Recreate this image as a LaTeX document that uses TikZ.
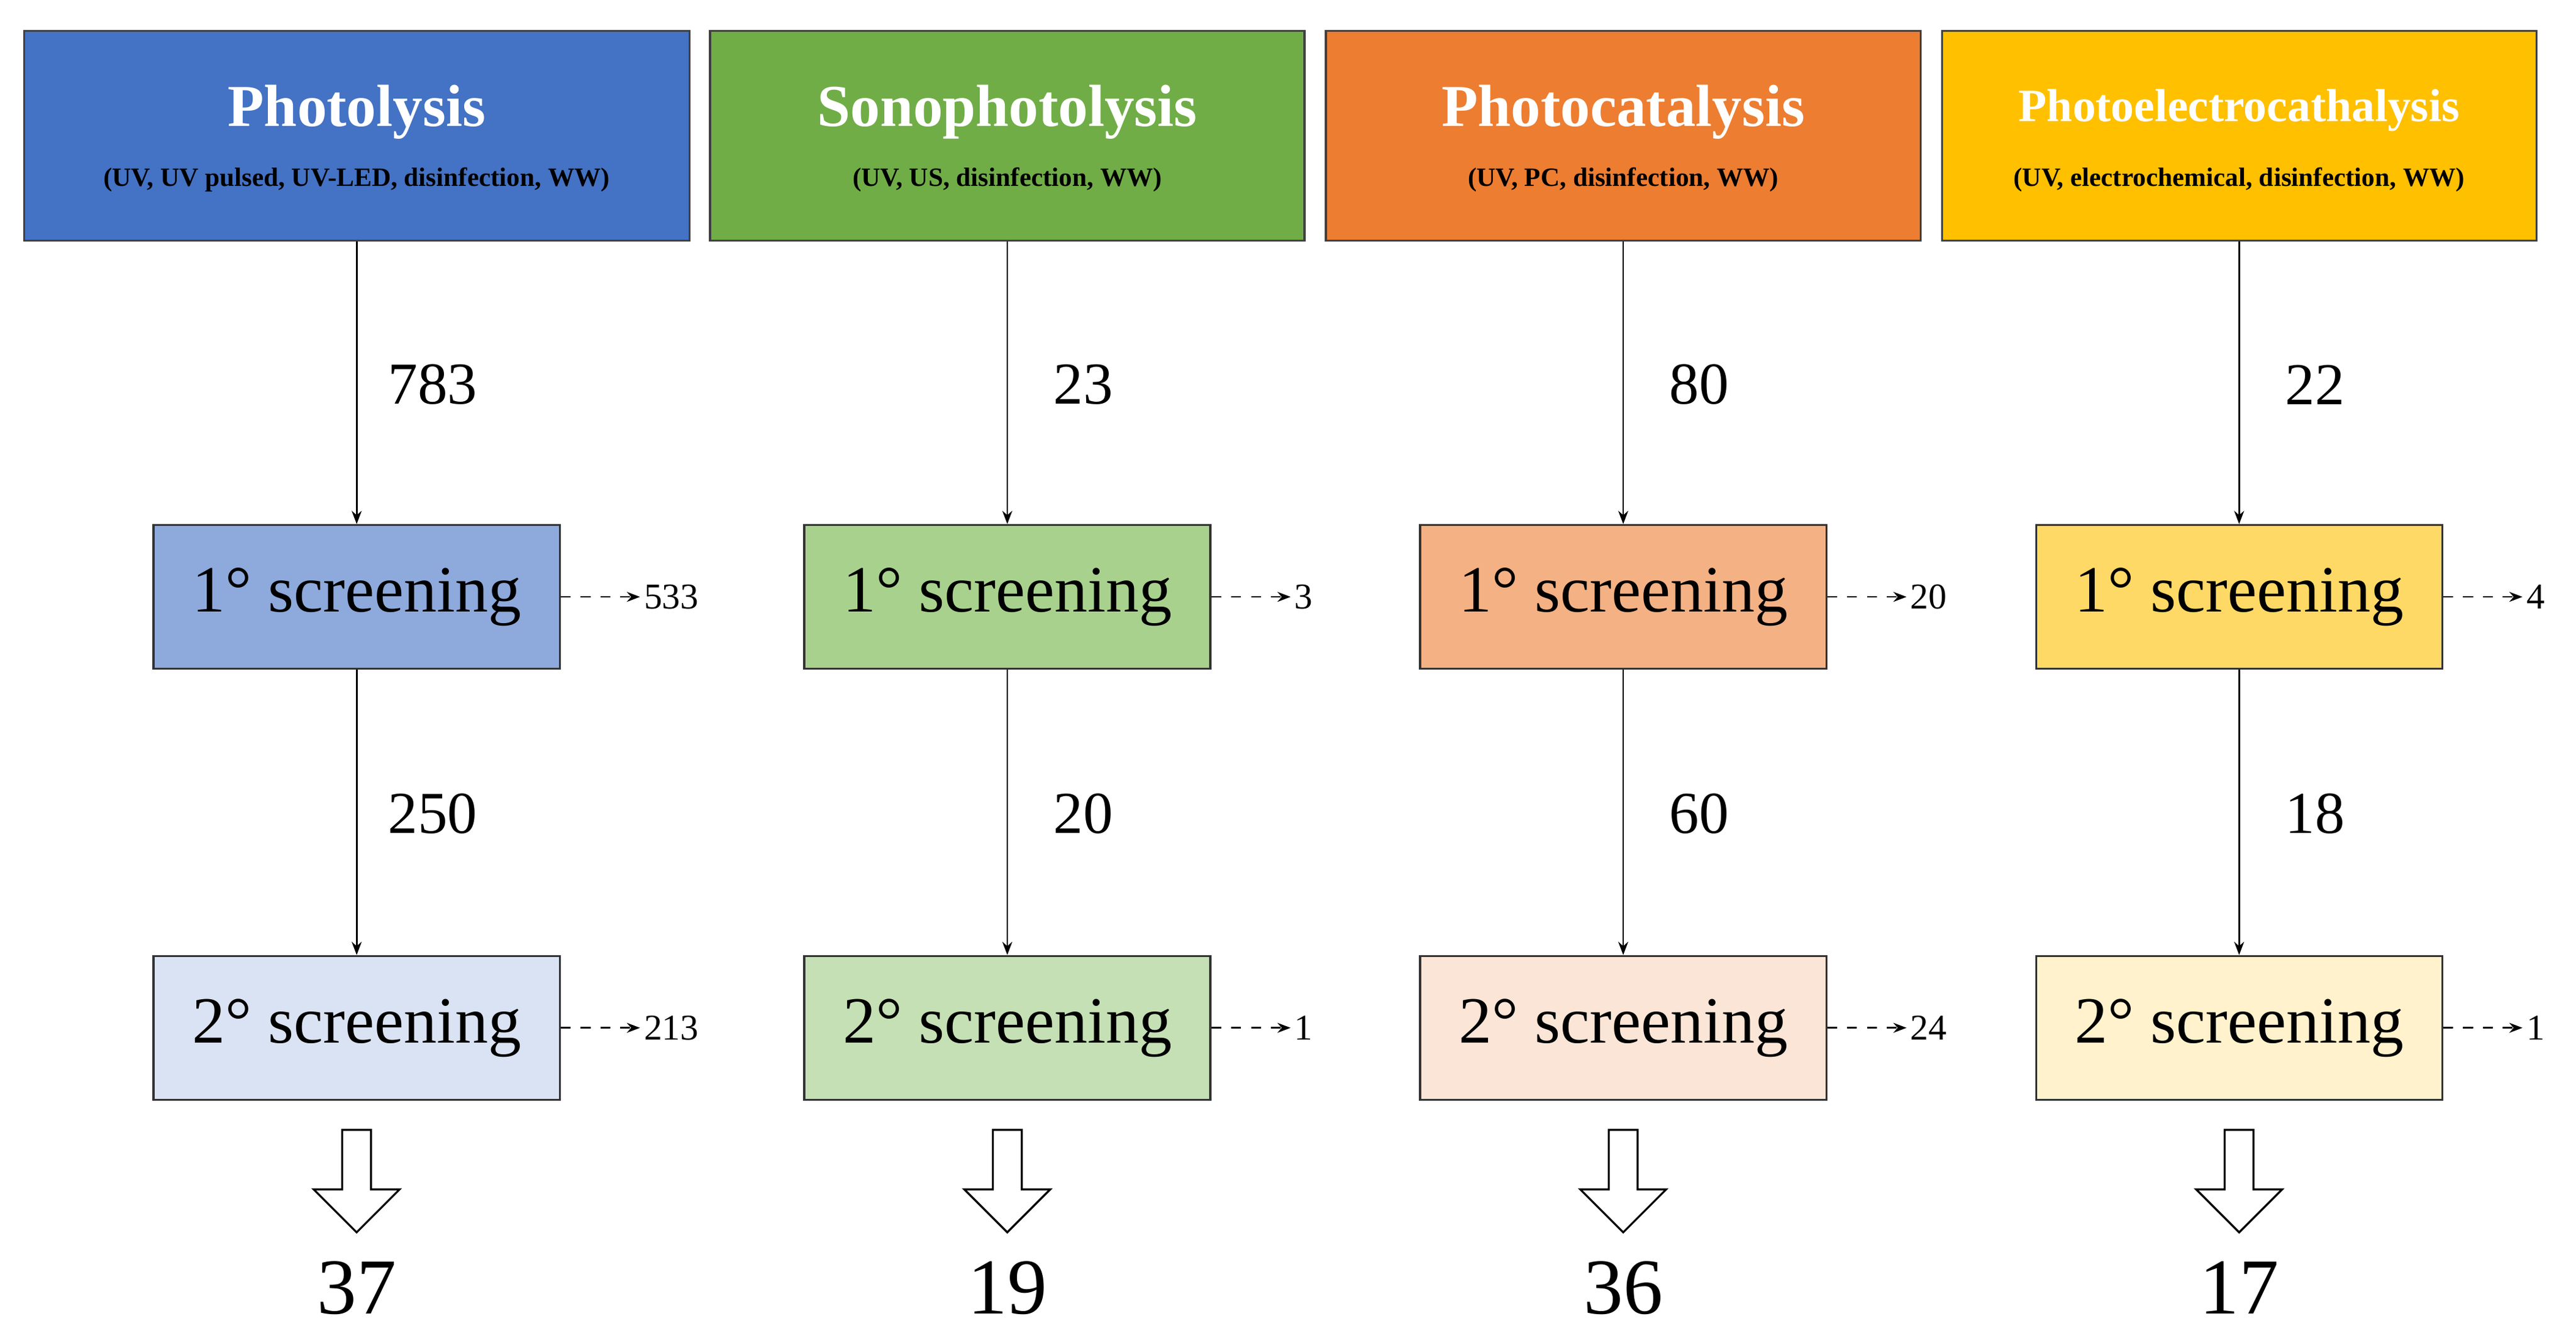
\documentclass[tikz,border=0pt]{standalone}
\usepackage{fontspec}
\setmainfont{Liberation Serif}
\usetikzlibrary{arrows.meta,shapes.arrows}
\begin{document}
\begin{tikzpicture}[x=0.5pt,y=-0.5pt,
 hdr/.style={draw=black!75,line width=0.6pt,minimum width=180pt,minimum height=63.5pt,inner sep=0pt,anchor=north},
 scr/.style={draw=black!80,line width=0.6pt,minimum width=123pt,minimum height=43.5pt,inner sep=0pt,font=\fontsize{20}{22}\selectfont},
 ar/.style={-{Stealth[length=4pt,width=3pt]},line width=0.5pt},
 dar/.style={-{Stealth[length=4pt,width=3pt]},dashed,line width=0.5pt},
 num/.style={font=\fontsize{18}{20}\selectfont},
 side/.style={font=\fontsize{11}{12}\selectfont,anchor=west,inner sep=1pt},
 fin/.style={font=\fontsize{24}{26}\selectfont},
 blk/.style={draw=black,line width=0.6pt,fill=white,single arrow,shape border rotate=270,minimum height=31pt,minimum width=26pt,single arrow head extend=6.5pt,inner sep=3pt}]
\useasboundingbox (0,0) rectangle (1560,810);
\def\col#1#2#3#4#5#6#7#8#9{}
\definecolor{c1}{HTML}{4472C4}\definecolor{c2}{HTML}{70AD47}\definecolor{c3}{HTML}{ED7D31}\definecolor{c4}{HTML}{FFC000}
\definecolor{a1}{HTML}{8EA9DB}\definecolor{a2}{HTML}{A9D18E}\definecolor{a3}{HTML}{F4B183}\definecolor{a4}{HTML}{FFD966}
\definecolor{b1}{HTML}{DAE3F3}\definecolor{b2}{HTML}{C5E0B4}\definecolor{b3}{HTML}{FBE5D6}\definecolor{b4}{HTML}{FFF2CC}
\foreach \i/\x/\w/\t/\s/\na/\nb/\sa/\sb/\f in {
 1/216/403/Photolysis/{(UV, UV pulsed, UV-LED, disinfection, WW)}/783/250/533/213/37,
 2/610/360/Sonophotolysis/{(UV, US, disinfection, WW)}/23/20/3/1/19,
 3/983/360/Photocatalysis/{(UV, PC, disinfection, WW)}/80/60/20/24/36,
 4/1356/360/Photoelectrocathalysis/{(UV, electrochemical, disinfection, WW)}/22/18/4/1/17}{
 \node[hdr,fill=c\i,minimum width=\w*0.5pt] (h\i) at (\x,18) {};
 \ifnum\i=4
 \node[text=white,font=\fontsize{14}{16}\selectfont\bfseries] at (\x,67) {\t};
 \else
 \node[text=white,font=\fontsize{18}{20}\selectfont\bfseries] at (\x,68) {\t};
 \fi
 \node[font=\fontsize{8}{9}\selectfont\bfseries] at (\x,109) {\s};
 \node[scr,fill=a\i] (p\i) at (\x,361.5) {1° screening};
 \node[scr,fill=b\i] (q\i) at (\x,622.5) {2° screening};
 \draw[ar] (h\i.south) -- (p\i.north);
 \draw[ar] (p\i.south) -- (q\i.north);
 \node[num] at (\x+46,233) {\na};
 \node[num] at (\x+46,493) {\nb};
 \coordinate (e\i) at ([xshift=24pt]p\i.east);
 \coordinate (g\i) at ([xshift=24pt]q\i.east);
 \draw[dar] (p\i.east) -- (e\i);
 \draw[dar] (q\i.east) -- (g\i);
 \node[side] at (e\i) {\sa};
 \node[side] at (g\i) {\sb};
 \node[blk] (k\i) at (\x,711) {};
 \node[fin] at (\x,780) {\f};
}
\end{tikzpicture}
\end{document}
